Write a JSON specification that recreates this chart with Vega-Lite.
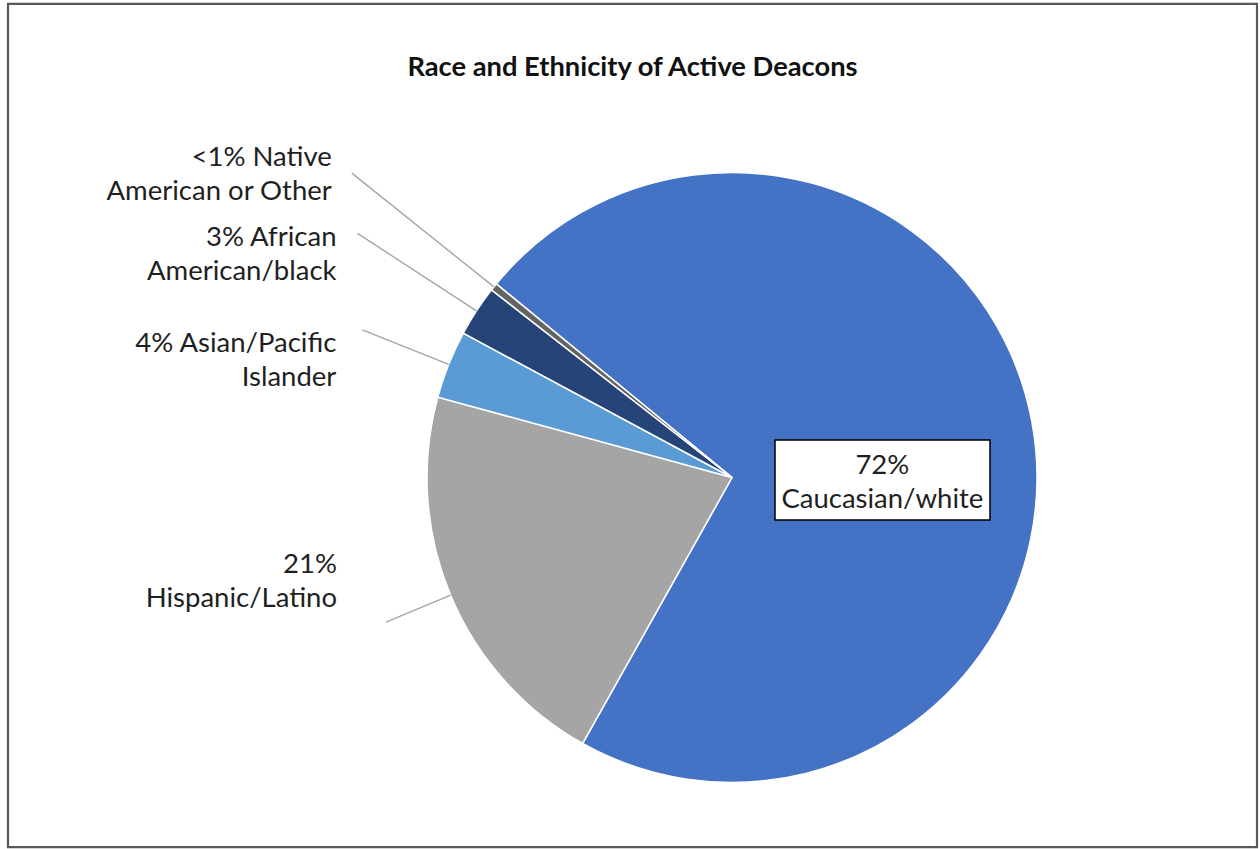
{
  "$schema": "https://vega.github.io/schema/vega-lite/v6.json",
  "width": 1249,
  "height": 843,
  "autosize": {"type": "none"},
  "padding": {"left": 8, "top": 4, "right": 3, "bottom": 2},
  "background": "white",
  "config": {"view": {"stroke": null}, "font": "Lato"},
  "title": {"text": "Race and Ethnicity of Active Deacons", "font": "Lato", "fontSize": 27.3, "fontWeight": "bold", "color": "#111111", "anchor": "middle", "frame": "group", "baseline": "alphabetic", "offset": -104},
  "data": {"values": [
    {"category": "Caucasian/white", "value": 72.2, "label": ["72%", "Caucasian/white"], "order": 1},
    {"category": "Hispanic/Latino", "value": 21.1, "label": ["21%", "Hispanic/Latino"], "order": 2},
    {"category": "Asian/Pacific Islander", "value": 3.6, "label": ["4% Asian/Pacific", "Islander"], "order": 3},
    {"category": "African American/black", "value": 2.7, "label": ["3% African", "American/black"], "order": 4},
    {"category": "Native American or Other", "value": 0.4, "label": ["<1% Native", "American or Other"], "order": 5}
  ]},
  "layer": [
    {
      "transform": [{"filter": "datum.category === 'Caucasian/white'"}],
      "mark": {"type": "point", "shape": "M-1,-0.675L1,-0.675L1,0.675L-1,0.675Z", "size": 1560001, "filled": false, "fillOpacity": 0, "opacity": 1, "stroke": "#595959", "strokeWidth": 2.2},
      "encoding": {}
    },
    {
      "mark": {"type": "arc", "radius": 305, "stroke": "#ffffff", "strokeWidth": 1.5, "xOffset": 99.5, "yOffset": 52},
      "encoding": {
        "theta": {"field": "value", "type": "quantitative", "stack": true, "scale": {"domain": [0, 100], "range": [5.4, 11.6832]}},
        "order": {"field": "order", "type": "quantitative"},
        "color": {"field": "category", "type": "nominal", "legend": null, "scale": {"domain": ["Caucasian/white", "Hispanic/Latino", "Asian/Pacific Islander", "African American/black", "Native American or Other"], "range": ["#4472C4", "#A5A5A5", "#5B9BD5", "#264478", "#636363"]}}
      }
    },
    {
      "mark": {"type": "arc", "innerRadius": 305, "radius": 487, "padAngle": 3.14, "fillOpacity": 0, "stroke": "#A6A6A6", "strokeWidth": 1.4, "xOffset": 99.5, "yOffset": 52},
      "encoding": {
        "theta": {"field": "value", "type": "quantitative", "stack": true, "scale": {"domain": [0, 100], "range": [5.4, 11.6832]}},
        "order": {"field": "order", "type": "quantitative"},
        "strokeOpacity": {"condition": {"test": "datum.category === 'Native American or Other'", "value": 1}, "value": 0}
      }
    },
    {
      "mark": {"type": "arc", "innerRadius": 305, "radius": 447, "padAngle": 3.14, "fillOpacity": 0, "stroke": "#A6A6A6", "strokeWidth": 1.4, "xOffset": 99.5, "yOffset": 52},
      "encoding": {
        "theta": {"field": "value", "type": "quantitative", "stack": true, "scale": {"domain": [0, 100], "range": [5.4, 11.6832]}},
        "order": {"field": "order", "type": "quantitative"},
        "strokeOpacity": {"condition": {"test": "datum.category === 'African American/black'", "value": 1}, "value": 0}
      }
    },
    {
      "mark": {"type": "arc", "innerRadius": 305, "radius": 398, "padAngle": 3.14, "fillOpacity": 0, "stroke": "#A6A6A6", "strokeWidth": 1.4, "xOffset": 99.5, "yOffset": 52},
      "encoding": {
        "theta": {"field": "value", "type": "quantitative", "stack": true, "scale": {"domain": [0, 100], "range": [5.4, 11.6832]}},
        "order": {"field": "order", "type": "quantitative"},
        "strokeOpacity": {"condition": {"test": "datum.category === 'Asian/Pacific Islander'", "value": 1}, "value": 0}
      }
    },
    {
      "mark": {"type": "arc", "innerRadius": 305, "radius": 375, "padAngle": 3.14, "fillOpacity": 0, "stroke": "#A6A6A6", "strokeWidth": 1.4, "xOffset": 99.5, "yOffset": 52},
      "encoding": {
        "theta": {"field": "value", "type": "quantitative", "stack": true, "scale": {"domain": [0, 100], "range": [5.4, 11.6832]}},
        "order": {"field": "order", "type": "quantitative"},
        "strokeOpacity": {"condition": {"test": "datum.category === 'Hispanic/Latino'", "value": 1}, "value": 0}
      }
    },
    {
      "transform": [{"filter": "datum.category === 'Caucasian/white'"}],
      "mark": {"type": "point", "shape": "M-1,-0.372L1,-0.372L1,0.372L-1,0.372Z", "size": 46225, "filled": true, "fill": "#ffffff", "fillOpacity": 1, "opacity": 1, "stroke": "#000000", "strokeWidth": 1.5, "xOffset": 250, "yOffset": 54.5},
      "encoding": {}
    },
    {
      "mark": {"type": "text", "radius": 153, "align": "center", "baseline": "middle", "dy": 17, "fontSize": 27.5, "lineHeight": 34, "color": "#1f1f1f", "xOffset": 99.5, "yOffset": 52},
      "encoding": {
        "theta": {"field": "value", "type": "quantitative", "stack": true, "scale": {"domain": [0, 100], "range": [5.4, 11.6832]}},
        "order": {"field": "order", "type": "quantitative"},
        "text": {"condition": {"test": "datum.category === 'Caucasian/white'", "field": "label"}, "value": ""}
      }
    },
    {
      "mark": {"type": "text", "radius": 487, "align": "right", "baseline": "middle", "dx": -20, "dy": -15, "fontSize": 27.5, "lineHeight": 34, "color": "#1f1f1f", "xOffset": 99.5, "yOffset": 52},
      "encoding": {
        "theta": {"field": "value", "type": "quantitative", "stack": true, "scale": {"domain": [0, 100], "range": [5.4, 11.6832]}},
        "order": {"field": "order", "type": "quantitative"},
        "text": {"condition": {"test": "datum.category === 'Native American or Other'", "field": "label"}, "value": ""}
      }
    },
    {
      "mark": {"type": "text", "radius": 447, "align": "right", "baseline": "middle", "dx": -21, "dy": 5, "fontSize": 27.5, "lineHeight": 34, "color": "#1f1f1f", "xOffset": 99.5, "yOffset": 52},
      "encoding": {
        "theta": {"field": "value", "type": "quantitative", "stack": true, "scale": {"domain": [0, 100], "range": [5.4, 11.6832]}},
        "order": {"field": "order", "type": "quantitative"},
        "text": {"condition": {"test": "datum.category === 'African American/black'", "field": "label"}, "value": ""}
      }
    },
    {
      "mark": {"type": "text", "radius": 398, "align": "right", "baseline": "middle", "dx": -26, "dy": 14, "fontSize": 27.5, "lineHeight": 34, "color": "#1f1f1f", "xOffset": 99.5, "yOffset": 52},
      "encoding": {
        "theta": {"field": "value", "type": "quantitative", "stack": true, "scale": {"domain": [0, 100], "range": [5.4, 11.6832]}},
        "order": {"field": "order", "type": "quantitative"},
        "text": {"condition": {"test": "datum.category === 'Asian/Pacific Islander'", "field": "label"}, "value": ""}
      }
    },
    {
      "mark": {"type": "text", "radius": 375, "align": "right", "baseline": "middle", "dx": -49, "dy": -57, "fontSize": 27.5, "lineHeight": 34, "color": "#1f1f1f", "xOffset": 99.5, "yOffset": 52},
      "encoding": {
        "theta": {"field": "value", "type": "quantitative", "stack": true, "scale": {"domain": [0, 100], "range": [5.4, 11.6832]}},
        "order": {"field": "order", "type": "quantitative"},
        "text": {"condition": {"test": "datum.category === 'Hispanic/Latino'", "field": "label"}, "value": ""}
      }
    }
  ]
}
